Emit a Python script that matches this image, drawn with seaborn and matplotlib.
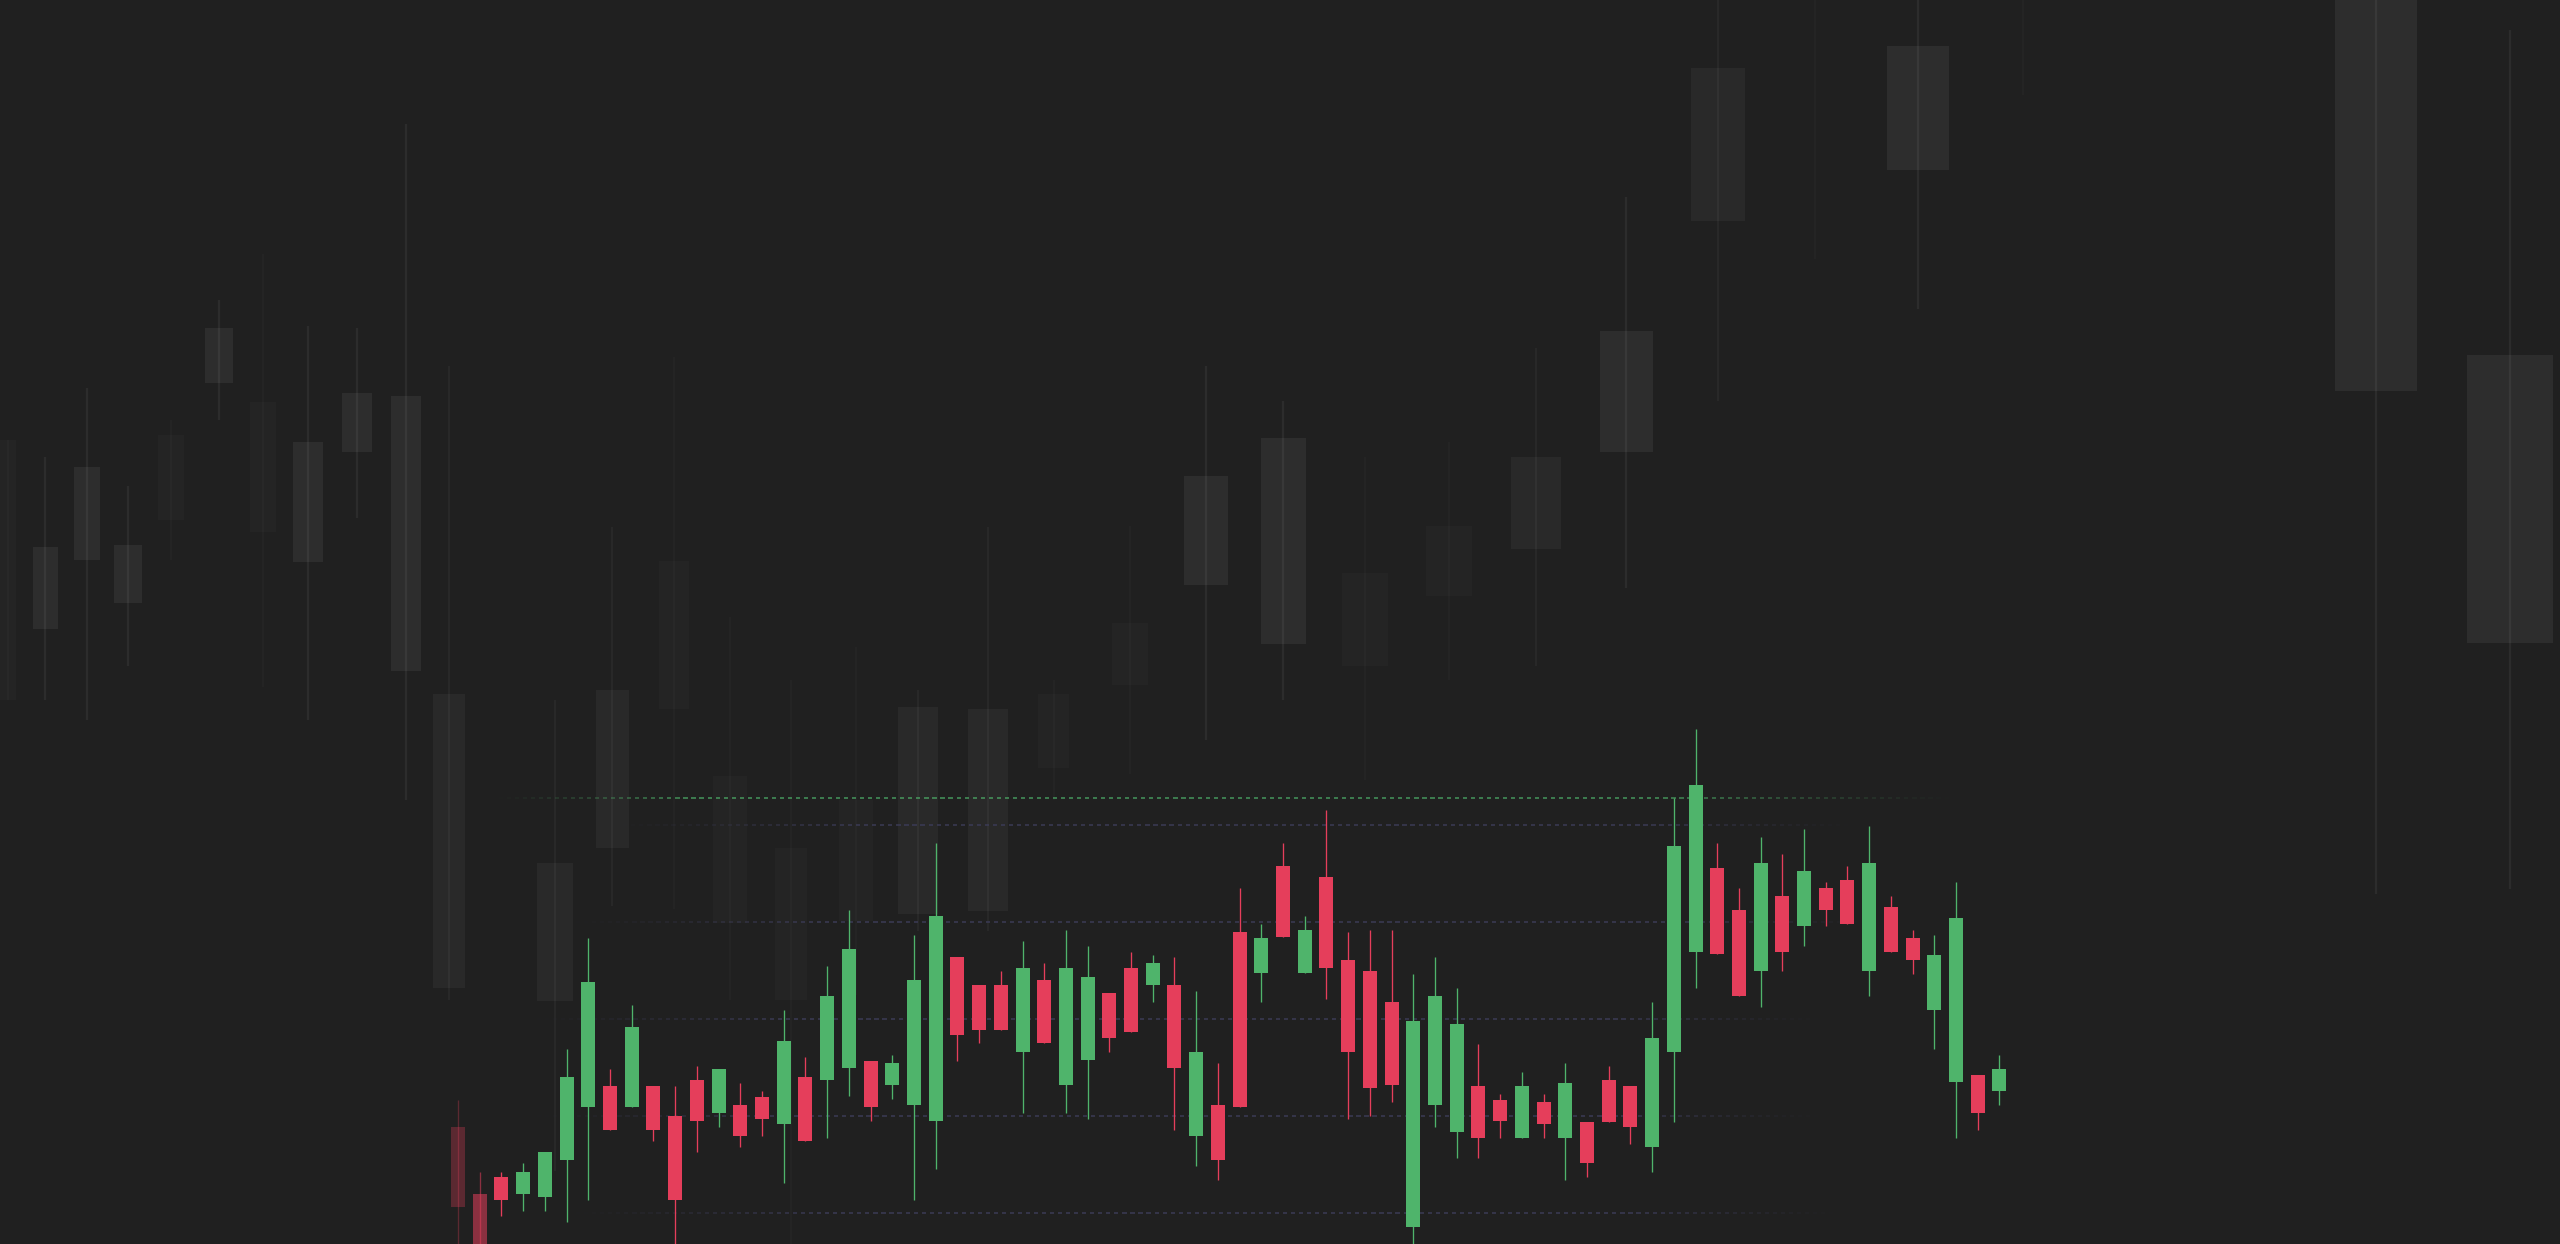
import numpy as np
import matplotlib.pyplot as plt
from matplotlib.collections import LineCollection
from matplotlib.colors import to_rgb
import seaborn as sns

# Foreground session candles (price units)
OPEN = [104.42, 100.98, 101.84, 100.98, 100.84, 102.73, 105.45, 106.57, 105.45, 106.57,
        104.99, 106.86, 105.14, 105.57, 106.00, 104.59, 107.00, 106.86, 107.46, 107.86,
        106.60, 105.59, 104.73, 113.19, 111.76, 111.76, 108.32, 112.04, 106.60, 107.89,
        111.33, 112.62, 111.76, 111.76, 103.99, 105.57, 114.48, 112.37, 117.92, 112.37,
        117.35, 113.05, 112.47, 110.90, 99.26, 105.59, 104.16, 106.57, 105.85, 103.85,
        105.71, 103.85, 104.71, 106.86, 106.57, 103.42, 108.32, 113.48, 117.78, 115.63,
        112.47, 116.34, 114.79, 116.77, 117.19, 112.47, 115.77, 114.19, 110.47, 106.74,
        107.13, 106.31]
HIGH = [105.85, 102.12, 102.10, 102.56, 103.13, 108.46, 114.20, 107.43, 110.73, 106.57,
        106.57, 107.57, 107.43, 106.71, 106.28, 110.47, 108.03, 112.74, 115.63, 107.86,
        108.15, 114.34, 119.09, 113.19, 111.76, 112.47, 114.05, 112.90, 114.61, 113.76,
        111.33, 113.45, 113.32, 113.19, 111.47, 107.72, 116.77, 114.91, 119.09, 115.34,
        120.81, 114.48, 114.61, 114.61, 112.33, 113.19, 111.61, 108.72, 106.14, 107.29,
        106.14, 107.72, 104.71, 107.57, 106.57, 110.87, 121.41, 124.97, 119.09, 116.77,
        119.38, 118.52, 119.81, 117.06, 117.92, 119.95, 116.34, 114.61, 114.34, 117.06,
        107.13, 108.15]
LOW = [97.58, 96.00, 99.83, 100.12, 100.12, 99.52, 100.69, 104.28, 105.45, 103.73,
       97.58, 103.13, 104.42, 103.42, 103.99, 101.55, 103.73, 103.85, 106.02, 104.73,
       105.88, 100.69, 102.27, 107.86, 108.75, 109.46, 105.16, 108.75, 105.16, 104.85,
       108.32, 109.32, 110.90, 104.28, 102.41, 101.72, 105.45, 110.90, 114.22, 112.37,
       111.04, 104.85, 104.99, 105.71, 97.83, 104.42, 102.84, 102.84, 103.85, 103.85,
       103.85, 101.70, 101.84, 104.71, 103.56, 102.13, 104.71, 111.61, 113.36, 111.18,
       110.61, 112.47, 113.76, 114.79, 114.91, 111.18, 113.48, 112.33, 108.46, 103.85,
       104.28, 105.57]
CLOSE = [100.29, 96.80, 100.69, 102.12, 103.13, 107.00, 111.90, 104.28, 109.58, 104.28,
         100.69, 104.73, 107.43, 103.99, 104.85, 108.89, 103.73, 111.18, 113.62, 105.45,
         107.72, 112.04, 115.34, 109.18, 109.46, 109.46, 112.62, 108.75, 112.62, 112.19,
         109.03, 109.32, 112.90, 107.46, 108.29, 102.73, 105.45, 114.19, 114.22, 114.61,
         112.62, 108.32, 106.45, 106.60, 109.89, 111.18, 109.75, 103.85, 104.73, 106.57,
         104.59, 106.71, 102.56, 104.71, 104.42, 109.03, 118.95, 122.10, 113.36, 111.18,
         118.06, 113.48, 117.64, 115.65, 114.91, 118.06, 113.48, 113.07, 113.32, 115.20,
         105.16, 107.43]

GRID_LEVELS = [100, 105, 110, 115, 120]
RESISTANCE = 121.4

# Background depth layer (0-100 layer units)
BG_X = [0.31, 1.76, 3.40, 5.00, 6.68, 8.55, 10.27, 12.03, 13.95, 15.86,
        17.54, 21.68, 23.91, 26.33, 28.52, 30.90, 33.44, 35.86, 38.59, 41.17,
        44.14, 47.11, 50.12, 53.32, 56.60, 60.00, 63.52, 67.11, 70.90, 74.92,
        79.02, 92.81, 98.05]
BG_TOP = [64.6, 56.0, 62.5, 56.2, 65.0, 73.6, 67.7, 64.5, 68.4, 68.2,
          44.2, 30.6, 44.5, 54.9, 37.6, 31.8, 35.7, 43.2, 43.0, 44.2,
          49.9, 61.7, 64.8, 53.9, 57.7, 63.3, 73.4, 94.5, 79.2, 96.3,
          92.4, 100.0, 71.5]
BG_BOT = [43.7, 49.4, 55.0, 51.5, 58.2, 69.2, 57.2, 54.8, 63.7, 46.1,
          20.6, 19.5, 31.8, 43.0, 25.8, 19.6, 26.0, 26.5, 26.8, 38.3,
          44.9, 53.0, 48.2, 46.5, 52.1, 55.9, 63.7, 82.2, 79.2, 86.3,
          92.4, 68.6, 48.3]
BG_HIGH = [64.6, 63.3, 68.8, 60.9, 66.2, 75.9, 79.6, 73.8, 73.6, 90.0,
           70.6, 43.7, 57.6, 71.3, 50.4, 45.3, 48.0, 44.5, 57.6, 45.3,
           57.7, 70.6, 67.8, 63.3, 64.5, 72.0, 84.2, 100.0, 100.0, 100.0,
           100.0, 100.0, 97.6]
BG_LOW = [43.7, 43.7, 42.1, 46.5, 55.0, 66.2, 44.8, 42.1, 58.4, 35.7,
          19.6, 5.9, 27.2, 26.9, 19.6, 0.0, 20.0, 25.2, 25.2, 35.7,
          37.8, 40.5, 43.7, 37.3, 45.3, 46.5, 52.7, 67.8, 79.2, 75.2,
          92.4, 28.1, 28.5]
BG_WIDTH = [0.63, 0.98, 1.02, 1.09, 1.02, 1.09, 1.02, 1.17, 1.17, 1.17,
            1.25, 1.37, 1.29, 1.17, 1.33, 1.25, 1.30, 1.56, 1.56, 1.21,
            1.41, 1.72, 1.76, 1.80, 1.80, 1.95, 2.07, 2.11, 1.95, 2.42,
            2.00, 3.20, 3.36]
BG_TONE = ["faint", "strong", "strong", "strong", "faint", "strong", "faint", "strong", "strong", "strong",
           "medium", "medium", "medium", "faint", "faint", "faint", "faint", "medium", "medium", "faint",
           "faint", "strong", "strong", "faint", "faint", "medium", "strong", "medium", "faint", "strong",
           "faint", "strong", "strong"]

BG = "#202020"
UP = "#4fb46b"
DOWN = "#e53e5b"
GRID = "#3c3c58"

sns.set_theme(style="dark", rc={"axes.facecolor": BG, "figure.facecolor": BG})

fig = plt.figure(figsize=(25.6, 12.44), dpi=100)

# ---- background: distant, faded candles
ax_bg = fig.add_axes([0, 0, 1, 1])
ax_bg.set_xlim(0, 100)
ax_bg.set_ylim(0, 100)
ax_bg.axis("off")

tone_alpha = {"strong": 0.055, "medium": 0.038, "faint": 0.019}
bg_alpha = [tone_alpha[t] for t in BG_TONE]
ax_bg.vlines(BG_X, BG_LOW, BG_HIGH, colors=[(1, 1, 1, a) for a in bg_alpha],
             linewidth=1.6, zorder=1)
ax_bg.bar(BG_X, np.array(BG_TOP) - np.array(BG_BOT), bottom=BG_BOT, width=BG_WIDTH,
          color=[(1, 1, 1, a * 1.1) for a in bg_alpha], linewidth=0, zorder=2)

# ---- foreground chart
ax = fig.add_axes([0, 0, 1, 1])
ax.patch.set_alpha(0)
ax.set_xlim(-21.10, 96.82)
ax.set_ylim(98.40, 162.57)
ax.axis("off")


def faded_dashes(ax, y, x0, x1, fade_in, fade_out, color, peak):
    # one segment per dash so each dash can carry its own alpha
    period, on = 0.37, 0.19
    segs, cols = [], []
    rgb = to_rgb(color)
    for s in np.arange(x0, x1, period):
        a = min(1, (s - x0) / fade_in, (x1 - s) / fade_out)
        segs.append([(s, y), (s + on, y)])
        cols.append((*rgb, peak * max(a, 0) ** 1.3))
    ax.add_collection(LineCollection(segs, colors=cols, linewidths=1.1, zorder=1))


grid_spans = {100: (4.7, 63.9), 105: (2.9, 63.2), 110: (2.9, 63.2), 115: (4.7, 65.5), 120: (6.5, 64.6)}
for lvl in GRID_LEVELS:
    x0, x1 = grid_spans[lvl]
    faded_dashes(ax, lvl, x0, x1, 12, 10, GRID, 0.95)
faded_dashes(ax, RESISTANCE, 1.5, 69.0, 9, 14, UP, 0.8)

x = np.arange(len(OPEN))
o, h, l, c = map(np.array, (OPEN, HIGH, LOW, CLOSE))
up = c >= o
fade = np.ones(len(x))
fade[:2] = [0.3, 0.55]
colors = [(*to_rgb(UP if u else DOWN), f) for u, f in zip(up, fade)]

ax.vlines(x, l, h, colors=colors, linewidth=0.95, zorder=3)
ax.bar(x, np.abs(c - o), bottom=np.minimum(o, c), width=0.645, color=colors,
       linewidth=0, zorder=4)

plt.savefig("out.png", dpi=100, facecolor=BG)
